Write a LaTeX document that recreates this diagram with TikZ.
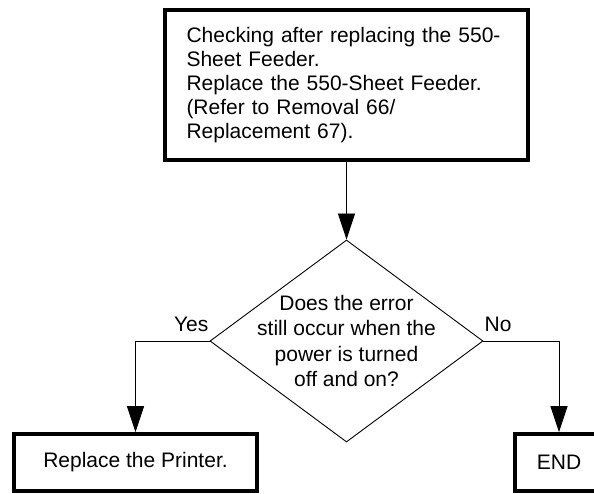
\documentclass[tikz,border=0pt]{standalone}
\usepackage{fontspec}
\setmainfont{Liberation Sans}
\usetikzlibrary{arrows.meta, shapes.geometric}

\begin{document}
\begin{tikzpicture}[
    x=1pt, y=-1pt,
    every node/.style={font=\fontsize{21}{24}\selectfont},
    box/.style={draw, line width=3.6pt, inner sep=0pt},
    decision/.style={draw, diamond, line width=0.9pt, inner sep=0pt, minimum width=273pt, minimum height=202pt},
    qtext/.style={align=center, inner sep=0pt, font=\fontsize{21}{25.3}\selectfont},
    lbl/.style={inner sep=1pt},
    arrow/.style={-{Triangle[length=26pt, width=17pt]}, line width=0.9pt}
]
\useasboundingbox (0,0) rectangle (594,493);

\node[box, minimum width=363pt, minimum height=150pt, text width=320pt, align=left] (check) at (346.5,85) {Checking after replacing the 550-\\Sheet Feeder.\\Replace the 550-Sheet Feeder.\\(Refer to Removal 66/\\Replacement 67).};
\node[decision] (dec) at (346.5,341) {};
\node[qtext] (question) at (dec.center) {Does the error\\still occur when the\\power is turned\\off and on?};
\node[box, minimum width=243pt, minimum height=57pt] (printer) at (135.5,462.5) {Replace the Printer.};
\node[box, minimum width=88pt, minimum height=57pt] (finish) at (559,462.5) {END};
\node[lbl, anchor=base east] (yes) at ([yshift=10pt]dec.west) {Yes};
\node[lbl, anchor=base west] (no) at ([yshift=10pt]dec.east) {No};

\draw[arrow] (check) -- (dec);
\draw[arrow] (dec.west) -| (printer.north);
\draw[arrow] (dec.east) -| (finish.north);
\end{tikzpicture}
\end{document}
